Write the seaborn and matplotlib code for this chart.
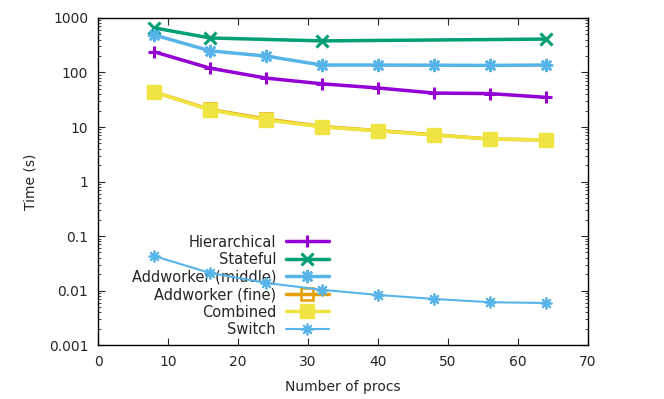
import matplotlib
matplotlib.use("Agg")
import matplotlib.pyplot as plt
import seaborn as sns
from matplotlib.ticker import LogLocator, NullFormatter, FixedLocator

procs = [8, 16, 24, 32, 40, 48, 56, 64]
stateful_procs = [8, 16, 32, 64]

hierarchical = [240, 120, 79, 62, 52, 42, 41, 35]
stateful = [660, 430, 380, 410]
addworker_middle = [490, 250, 200, 137, 137, 136, 135, 137]
addworker_fine = [44, 21, 14, 10.2, 8.6, 7.2, 6.0, 5.8]
combined = [44, 20.5, 13.5, 10, 8.5, 7.1, 6.0, 5.8]
switch = [0.043, 0.021, 0.0138, 0.0103, 0.0083, 0.0070, 0.0061, 0.0059]

sns.set_style("ticks")
plt.rcParams["font.family"] = ["DejaVu Sans"]

fig = plt.figure(figsize=(6.64, 3.99), dpi=100)
ax = fig.add_axes([0.1476, 0.1353, 0.7379, 0.8196])

star = (8, 2, 0)
series = [
    ("Hierarchical", procs, hierarchical, "#9400d3", "+", 8.5, 2.2, "full", 2.5),
    ("Stateful", stateful_procs, stateful, "#009e73", "x", 8.5, 2.2, "full", 2.5),
    ("Addworker (middle)", procs, addworker_middle, "#56b4e9", star, 9.5, 1.8, "full", 2.5),
    ("Addworker (fine)", procs, addworker_fine, "#e69f00", "s", 8, 1.8, "none", 2.5),
    ("Combined", procs, combined, "#f0e442", "s", 10.5, 1.0, "full", 2.5),
    ("Switch", procs, switch, "#56b4e9", star, 8.5, 1.3, "full", 1.5),
]

for name, xs, ys, color, marker, ms, mew, fill, lw in series:
    sns.lineplot(x=xs, y=ys, ax=ax, color=color, marker=marker, markersize=ms,
                 markeredgewidth=mew, fillstyle=fill, markeredgecolor=color,
                 linewidth=lw, label=name, zorder=3)

ax.set_yscale("log")
ax.set_xlim(0, 70)
ax.set_ylim(0.001, 1000)
ax.xaxis.set_major_locator(FixedLocator(range(0, 71, 10)))
ax.yaxis.set_minor_locator(LogLocator(base=10, subs=range(2, 10), numticks=20))
ax.yaxis.set_minor_formatter(NullFormatter())
ax.set_yticks([0.001, 0.01, 0.1, 1, 10, 100, 1000])
ax.set_yticklabels(["0.001", "0.01", "0.1", "1", "10", "100", "1000"])
ax.tick_params(which="both", direction="in", top=True, right=True, labelsize=10, pad=7)
ax.tick_params(which="major", length=5)
ax.tick_params(which="minor", length=2.5)
for s in ax.spines.values():
    s.set_linewidth(1)
    s.set_color("black")

ax.set_xlabel("Number of procs", fontsize=10, labelpad=8)
ax.set_ylabel("Time (s)", fontsize=10, labelpad=8)

leg = ax.legend(loc="lower left", bbox_to_anchor=(0.052, 0.0), frameon=False,
                markerfirst=False, fontsize=10.5, handlelength=2.9,
                labelspacing=0.17, handletextpad=0.7, borderaxespad=0.15)
leg.set_zorder(1)
for t in leg.get_texts():
    t.set_ha("right")

fig.savefig("out.png", dpi=100)
